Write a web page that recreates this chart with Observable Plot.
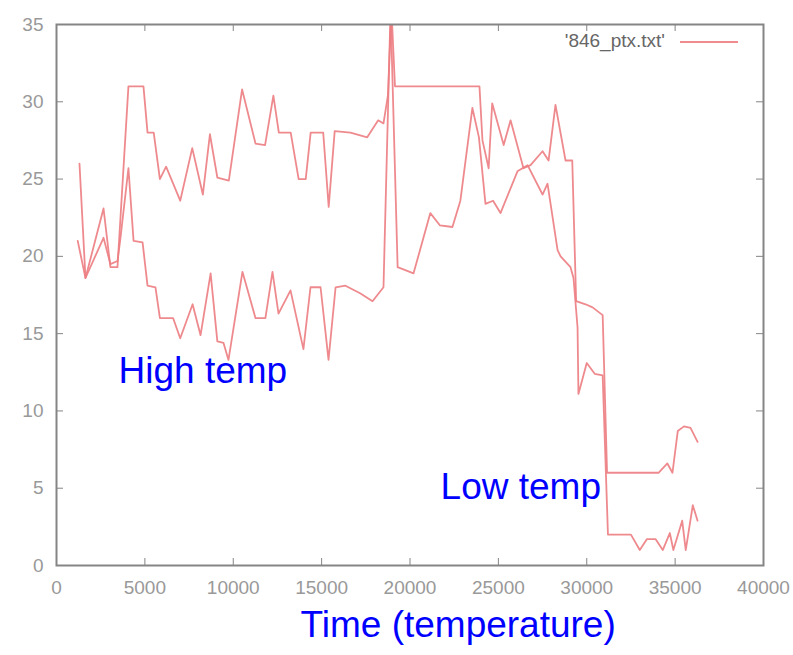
<!DOCTYPE html>
<html>
<head>
<meta charset="utf-8">
<script src="https://cdn.jsdelivr.net/npm/d3@7"></script>
<script src="https://cdn.jsdelivr.net/npm/@observablehq/plot@0.6"></script>
<style>
  body { margin: 0; background: #fff; }
  #wrap { position: relative; width: 793px; height: 655px; }
  #legend { position: absolute; right: 128px; top: 31px; font: 19px "Liberation Sans", Arial, sans-serif; line-height: 19px; color: #666; white-space: nowrap; }
  #legendLine { position: absolute; left: 680px; top: 41px; width: 58px; height: 0; border-top: 2px solid rgb(238,140,142); }
</style>
</head>
<body>
<div id="wrap"></div>
<script>
// ---- data ----
const highTime = [1300,1640,2660,3050,3450,4070,4920,5150,5500,5850,6200,7000,7680,8280,8680,9100,9750,10500,11260,11800,12270,12580,13250,13700,14100,14380,15090,15400,15740,16630,17580,18200,18500,18750,18950,19150,21000,23930,24100,24450,24650,25300,25690,26420,26820,27500,27840,28230,28800,29180,29400,29930,30330,30900,31150,34060,34560,34850,35150,35500,35870,36270];
const highTemp = [26,18.6,23.1,19.3,19.3,31,31,28,28,25,25.8,23.6,27,24,27.9,25.1,24.9,30.8,27.3,27.2,30.4,28,28,25,25,28,28,23.2,28.1,28,27.7,28.8,28.6,30.4,36,31,31,31,27.5,25.7,29.9,27.2,28.8,25.7,25.9,26.8,26.2,29.8,26.2,26.2,17.1,16.9,16.7,16.2,6,6,6.6,6,8.7,9,8.9,8];

const lowTime = [1200,1640,2660,3050,3450,3600,4070,4360,4870,5150,5600,5850,6600,7000,7700,8150,8720,9100,9450,9730,10520,11260,11820,12220,12560,13240,13970,14370,14940,15390,15790,16350,17200,17880,18500,18900,19300,20200,21150,21700,22400,22850,23530,23900,24270,24700,25120,26080,26650,27500,27780,28350,28520,29080,29250,29480,29530,30000,30450,30900,31200,32500,33000,33400,33900,34300,34700,34900,35400,35600,36000,36270];
const lowTemp = [21,18.6,21.2,19.5,19.7,21,25.7,21,20.9,18.1,18,16,16,14.7,16.9,14.9,18.9,14.5,14.4,13.3,19,16,16,19,16.3,17.8,14,18,18,13.3,18,18.1,17.6,17.1,18,36,19.3,18.9,22.8,22,21.9,23.6,29.6,27.7,23.4,23.6,22.8,25.5,25.9,24,24.7,20.4,20,19.3,18.6,15.4,11.1,13.1,12.4,12.3,2,2,1,1.7,1.7,1,2.1,1,2.9,1,3.9,2.9];

const xTicks = [0,5000,10000,15000,20000,25000,30000,35000,40000];
const yTicks = [0,5,10,15,20,25,30,35];

const notes = [
  {label: "High temp", t: 3510, v: 12.6},
  {label: "Low temp", t: 21730, v: 5.1}
];
const xTitle = "Time (temperature)";
const legendLabel = "'846_ptx.txt'";

// ---- build tables ----
const high = highTime.map((t, i) => ({t, v: highTemp[i]}));
const low = lowTime.map((t, i) => ({t, v: lowTemp[i]}));

const lineColor = "rgb(236,125,130)";
const axisGray = "#858585";

const chart = Plot.plot({
  width: 793,
  height: 655,
  marginLeft: 56,
  marginRight: 30,
  marginTop: 24,
  marginBottom: 90,
  style: {fontFamily: "'Liberation Sans', Arial, sans-serif", fontSize: "19px", background: "#fff"},
  x: {domain: [0, 40000]},
  y: {domain: [0, 35]},
  marks: [
    Plot.line(high, {x: "t", y: "v", stroke: lineColor, strokeWidth: 1.8, strokeOpacity: 0.9, clip: true}),
    Plot.line(low, {x: "t", y: "v", stroke: lineColor, strokeWidth: 1.8, strokeOpacity: 0.9, clip: true}),
    Plot.frame({stroke: axisGray, strokeWidth: 2}),
    Plot.tickX(xTicks, {x: d => d, insetTop: 534, stroke: axisGray}),
    Plot.tickX(xTicks, {x: d => d, insetBottom: 534, stroke: axisGray}),
    Plot.tickY(yTicks, {y: d => d, insetRight: 700, stroke: axisGray}),
    Plot.tickY(yTicks, {y: d => d, insetLeft: 700, stroke: axisGray}),
    Plot.axisX({ticks: xTicks, tickSize: 0, tickPadding: 15, tickFormat: d => String(d), fill: "#999", label: null}),
    Plot.axisY({ticks: yTicks, tickSize: 0, tickPadding: 13, tickFormat: d => String(d), fill: "#999", label: null}),
    Plot.text(notes, {x: "t", y: "v", text: "label", textAnchor: "start", fontSize: 37, fill: "#0000ff"}),
    Plot.text([xTitle], {frameAnchor: "bottom-left", dx: 244, dy: 71, textAnchor: "start", fontSize: 37, fill: "#0000ff"})
  ]
});

const wrap = document.getElementById("wrap");
wrap.appendChild(chart);
const lg = document.createElement("div");
lg.id = "legend";
lg.textContent = legendLabel;
wrap.appendChild(lg);
const ll = document.createElement("div");
ll.id = "legendLine";
wrap.appendChild(ll);
</script>
</body>
</html>
